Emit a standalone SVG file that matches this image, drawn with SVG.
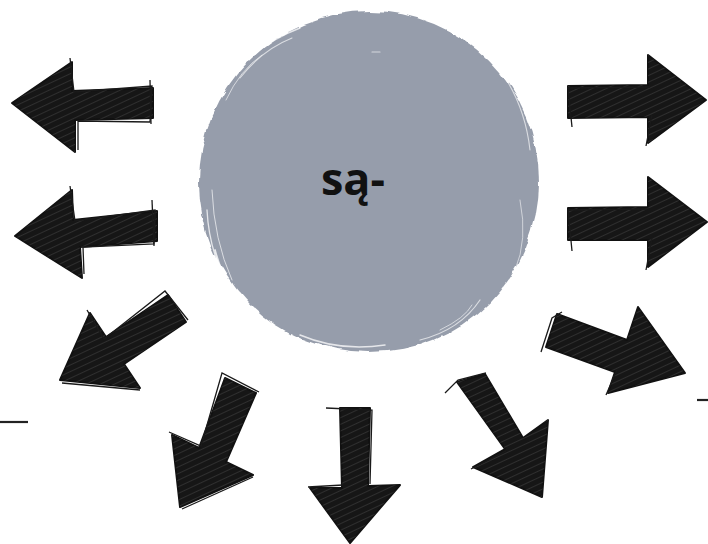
<svg xmlns="http://www.w3.org/2000/svg" xmlns:xlink="http://www.w3.org/1999/xlink" width="708" height="544" viewBox="0 0 708 544">
  <defs>
    <style>
      .arr { fill: #161616; stroke: #111; stroke-width: 2; stroke-linejoin: round; }
      .hatch { fill: url(#hatch); stroke: none; opacity: 0.5; }
      .sketch { fill: none; stroke: #1a1a1a; stroke-width: 1.3; stroke-linejoin: miter; }
      .brush { fill: none; stroke: #ffffff; stroke-linecap: round; }
      .label { font-family: "Open Sans", "Liberation Sans", sans-serif; font-weight: bold; font-size: 45px; fill: #111; }
      .tick { stroke: #222; stroke-width: 2.2; }
    </style>
    <pattern id="hatch" width="6" height="6" patternUnits="userSpaceOnUse" patternTransform="rotate(65)">
      <line x1="0" y1="0" x2="0" y2="6" stroke="#7a7a7a" stroke-width="1"/>
    </pattern>
    <filter id="rough" x="-10%" y="-10%" width="120%" height="120%">
      <feTurbulence type="fractalNoise" baseFrequency="0.05" numOctaves="2" seed="3" result="n"/>
      <feDisplacementMap in="SourceGraphic" in2="n" scale="7" xChannelSelector="R" yChannelSelector="G"/>
    </filter>
    <polygon id="p1" points="12,103 72,62 72,91 153,88 153,118 75,120 75,152"/>
    <polygon id="p2" points="15,236 72,190 73,220 157,211 157,241 80,247 82,278"/>
    <polygon id="p3" points="60,380 90,313 106,337 168,295 186,322 124,364 140,388"/>
    <polygon id="p4" points="180,507 172,435 199,448 225,378 256,393 226,462 253,475"/>
    <polygon id="p5" points="340,408 370,408 368,486 400,485 350,543 310,488 342,488"/>
    <polygon id="p6" points="457,382 485,374 523,438 548,420 542,497 473,467 505,449"/>
    <polygon id="p7" points="568,86 648,85 648,55 706,100 648,143 648,117 568,118"/>
    <polygon id="p8" points="568,208 648,207 648,177 707,222 648,267 648,240 568,240"/>
    <polygon id="p9" points="557,314 627,340 638,307 685,373 608,393 615,372 546,347"/>
  </defs>

  <rect x="0" y="0" width="708" height="544" fill="#ffffff"/>

  <g id="circle-node">
    <ellipse cx="369" cy="182" rx="170" ry="171" fill="#969dab" filter="url(#rough)"/>
    <path class="brush" stroke-width="1.8" opacity="0.8" d="M215,250 Q228,300 268,330"/>
    <path class="brush" stroke-width="1.3" opacity="0.75" d="M207,210 Q210,270 250,318"/>
    <path class="brush" stroke-width="1.1" opacity="0.7" d="M222,285 Q240,320 280,342"/>
    <path class="brush" stroke-width="1" opacity="0.65" d="M212,190 Q214,240 232,280"/>
    <path class="brush" stroke-width="1.5" opacity="0.75" d="M230,80 Q255,45 300,28"/>
    <path class="brush" stroke-width="1.1" opacity="0.65" d="M240,78 Q262,50 292,38"/>
    <path class="brush" stroke-width="1" opacity="0.6" d="M226,100 Q240,70 262,55"/>
    <path class="brush" stroke-width="1.5" opacity="0.75" d="M300,335 Q340,352 385,345"/>
    <path class="brush" stroke-width="1.2" opacity="0.65" d="M420,340 Q460,330 480,300"/>
    <path class="brush" stroke-width="1" opacity="0.6" d="M440,330 Q465,318 472,305"/>
    <path class="brush" stroke-width="1.1" opacity="0.65" d="M500,70 Q525,105 530,150"/>
    <path class="brush" stroke-width="1" opacity="0.55" d="M520,200 Q528,240 515,270"/>
    <path class="brush" stroke-width="1.2" opacity="0.6" d="M372,52 L380,52"/>
    <text class="label" x="321" y="195">są-</text>
  </g>

  <g id="connectors">
    <g id="arrow-left-1">
      <use xlink:href="#p1" class="arr"/>
      <use xlink:href="#p1" class="hatch"/>
      <polyline class="sketch" points="70,58 74,92 152,86 150,122 78,121 78,150"/>
      <line class="sketch" x1="150" y1="80" x2="151" y2="124"/>
    </g>
    <g id="arrow-left-2">
      <use xlink:href="#p2" class="arr"/>
      <use xlink:href="#p2" class="hatch"/>
      <polyline class="sketch" points="70,186 75,221 155,210 154,244 83,247 84,274"/>
      <line class="sketch" x1="152" y1="200" x2="154" y2="246"/>
    </g>
    <g id="arrow-downleft-1">
      <use xlink:href="#p3" class="arr"/>
      <use xlink:href="#p3" class="hatch"/>
      <polyline class="sketch" points="87,310 104,339 165,291 188,320"/>
      <line class="sketch" x1="62" y1="383" x2="140" y2="390"/>
    </g>
    <g id="arrow-downleft-2">
      <use xlink:href="#p4" class="arr"/>
      <use xlink:href="#p4" class="hatch"/>
      <polyline class="sketch" points="169,432 201,446 222,373 259,392"/>
      <line class="sketch" x1="182" y1="509" x2="253" y2="477"/>
    </g>
    <g id="arrow-down">
      <use xlink:href="#p5" class="arr"/>
      <use xlink:href="#p5" class="hatch"/>
      <polyline class="sketch" points="326,408 372,410 370,484"/>
      <line class="sketch" x1="308" y1="487" x2="343" y2="485"/>
    </g>
    <g id="arrow-downright">
      <use xlink:href="#p6" class="arr"/>
      <use xlink:href="#p6" class="hatch"/>
      <polyline class="sketch" points="445,393 458,380 486,373"/>
      <line class="sketch" x1="471" y1="469" x2="506" y2="451"/>
    </g>
    <g id="arrow-right-1">
      <use xlink:href="#p7" class="arr"/>
      <use xlink:href="#p7" class="hatch"/>
      <polyline class="sketch" points="572,127 568,88 650,87"/>
      <line class="sketch" x1="646" y1="146" x2="652" y2="115"/>
    </g>
    <g id="arrow-right-2">
      <use xlink:href="#p8" class="arr"/>
      <use xlink:href="#p8" class="hatch"/>
      <polyline class="sketch" points="572,251 568,210 650,209"/>
      <line class="sketch" x1="646" y1="270" x2="652" y2="238"/>
    </g>
    <g id="arrow-downright-2">
      <use xlink:href="#p9" class="arr"/>
      <use xlink:href="#p9" class="hatch"/>
      <polyline class="sketch" points="541,352 552,318 562,312"/>
      <line class="sketch" x1="606" y1="395" x2="617" y2="370"/>
    </g>
  </g>

  <g id="edge-marks">
    <line class="tick" x1="0" y1="422" x2="28" y2="422"/>
    <line class="tick" x1="697" y1="400" x2="708" y2="400"/>
  </g>
</svg>
